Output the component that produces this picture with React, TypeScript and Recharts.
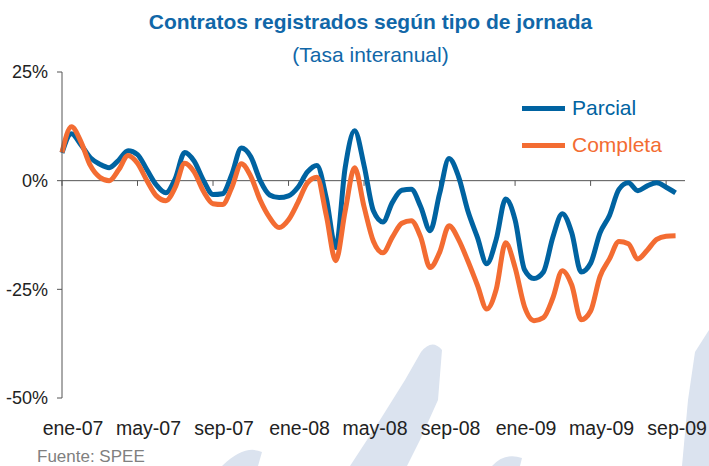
import React from "react";
import { LineChart, Line, XAxis, YAxis, ReferenceLine } from "recharts";

/* half-month steps from ene-07 */
const parcial = [
  6.4, 10.8, 8.3, 5.3, 3.8, 3.0, 4.7, 6.9, 6.0, 2.5, -1.0, -2.8, 0.5, 6.5, 4.5, 0.0,
  -3.2, -3.0, 1.5, 7.5, 5.5, 0.0, -3.3, -3.9, -3.5, -1.5, 2.0, 3.5, -4.0, -15.4, 3.0, 11.5,
  3.5, -7.0, -9.5, -5.0, -2.2, -2.0, -6.0, -11.5, -3.0, 5.1, 1.0, -7.0, -13.0, -19.1, -13.5, -4.2,
  -9.0, -20.5, -22.5, -21.0, -13.0, -7.6, -12.0, -21.0, -19.0, -12.0, -8.0, -2.0, -0.5, -2.3, -1.2, -0.5,
  -1.5, -2.8,
];
const completa = [
  6.5, 12.4, 9.0, 3.5, 0.8, 0.0, 2.5, 5.8, 4.0, 0.0, -3.5, -4.6, -1.5, 4.0, 2.0, -2.5,
  -5.3, -5.5, -1.5, 3.9, 1.0, -4.5, -8.5, -10.8, -9.0, -5.0, -0.5, 0.8, -8.0, -18.4, -7.0, 3.0,
  -6.0, -14.0, -16.6, -13.0, -9.8, -9.2, -13.0, -20.0, -16.5, -10.4, -13.5, -18.5, -24.0, -29.5, -25.0, -14.3,
  -20.0, -29.0, -32.2, -31.5, -27.0, -20.7, -24.0, -32.0, -30.0, -22.0, -18.0, -14.0, -14.5, -18.0, -16.0, -13.5,
  -12.8, -12.7,
];
const monthLabels = ["ene-07", "may-07", "sep-07", "ene-08", "may-08", "sep-08", "ene-09", "may-09", "sep-09"];
const monthTicks = [0, 4, 8, 12, 16, 20, 24, 28, 32];
const yTicks = [-50, -25, 0, 25];

const data = parcial.map((p, i) => ({ m: i * 0.5, parcial: p, completa: completa[i] }));

const BLUE = "#0063a1";
const ORANGE = "#f36c32";
const FONT = "'Liberation Sans', Arial, sans-serif";

const XTick = ({ x, y, payload }: any) => {
  const idx = monthTicks.indexOf(payload.value);
  return (
    <text x={x + 11} y={y} dy="0.71em" textAnchor="middle" fontSize={19.5} fill="#222" fontFamily={FONT}>
      {monthLabels[idx]}
    </text>
  );
};

export default function App() {
  return (
    <div style={{ position: "absolute", left: 0, top: 0, width: 709, height: 466, background: "#fff", overflow: "hidden", fontFamily: FONT }}>
      {/* background watermark */}
      <svg width={709} height={466} style={{ position: "absolute", left: 0, top: 0 }}>
        <path d="M421 352 Q432 338 442 350 L438 400 L420 440 L407 466 L350 466 L380 420 L405 380 Z" fill="#dbe3ef" />
        <path d="M695 352 L709 330 L709 466 L682 466 L688 400 Z" fill="#dbe3ef" />
        <path d="M222 466 Q245 444 262 452 L258 466 Z" fill="#dbe3ef" />
        <path d="M492 466 Q505 452 522 458 L520 466 Z" fill="#dbe3ef" />
      </svg>

      <div style={{ position: "absolute", left: 0, width: 709, top: 10, textAlign: "center", paddingLeft: 32, boxSizing: "border-box" }}>
        <div style={{ color: "#1167a8", fontWeight: 700, fontSize: 21 }}>Contratos registrados según tipo de jornada</div>
        <div style={{ color: "#1167a8", fontSize: 21, marginTop: 9 }}>(Tasa interanual)</div>
      </div>

      <div style={{ position: "absolute", left: 0, top: 0 }}>
        <LineChart width={709} height={466} data={data} margin={{ top: 72, right: 24, bottom: 38, left: 0 }}>
          <XAxis
            dataKey="m"
            type="number"
            domain={[0, 33]}
            ticks={monthTicks}
            axisLine={false}
            tickLine={false}
            tickSize={0}
            tickMargin={23}
            tick={<XTick />}
            interval={0}
          />
          <YAxis
            type="number"
            domain={[-50, 25]}
            ticks={yTicks}
            width={62}
            tickSize={5}
            tickMargin={9}
            tickFormatter={(v: number) => `${v}%`}
            tick={{ fontSize: 18, fill: "#222", fontFamily: FONT }}
            axisLine={{ stroke: "#555" }}
            tickLine={{ stroke: "#555" }}
          />
          <ReferenceLine y={0} stroke="#555" strokeWidth={1} />
          {monthTicks.map((t) => (
            <ReferenceLine key={t} segment={[{ x: t, y: 0 }, { x: t, y: -1.2 }]} stroke="#555" strokeWidth={1} />
          ))}
          <Line type="monotone" dataKey="parcial" stroke={BLUE} strokeWidth={5} dot={false} isAnimationActive={false} />
          <Line type="monotone" dataKey="completa" stroke={ORANGE} strokeWidth={5} dot={false} isAnimationActive={false} />
        </LineChart>
      </div>

      {/* legend */}
      <div style={{ position: "absolute", left: 522, top: 95 }}>
        <div style={{ display: "flex", alignItems: "center", height: 26 }}>
          <span style={{ width: 43, height: 5, background: BLUE, display: "inline-block" }} />
          <span style={{ marginLeft: 7, color: BLUE, fontSize: 21 }}>Parcial</span>
        </div>
        <div style={{ display: "flex", alignItems: "center", height: 26, marginTop: 11 }}>
          <span style={{ width: 43, height: 5, background: ORANGE, display: "inline-block" }} />
          <span style={{ marginLeft: 7, color: ORANGE, fontSize: 21 }}>Completa</span>
        </div>
      </div>

      <div style={{ position: "absolute", left: 37, top: 447, color: "#808080", fontSize: 17 }}>Fuente: SPEE</div>
    </div>
  );
}
